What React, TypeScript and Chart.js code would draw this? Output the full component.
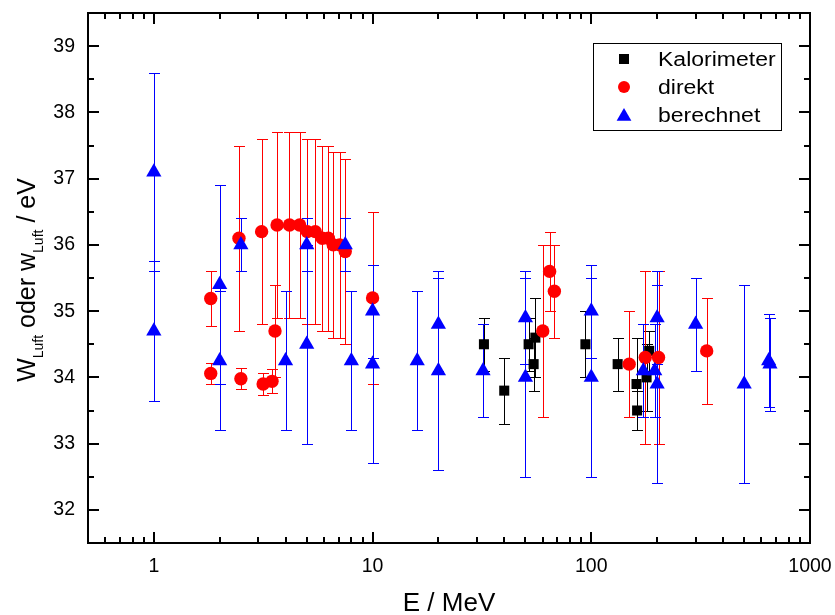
import React, { useEffect, useRef } from 'react';
import { Chart, registerables } from 'chart.js';

Chart.register(...registerables);

const FONT = '"Liberation Sans", Arial, Helvetica, sans-serif';

// ---- data ----
const seriesLabels = ['Kalorimeter', 'direkt', 'berechnet'];
const seriesColors = ['#000000', '#ff0000', '#0000ff'];

const kalE = [32.3, 40, 51.7, 54.5, 55.5, 94, 132, 161, 162, 179, 184];
const kalW = [34.5, 33.8, 34.5, 34.2, 34.6, 34.5, 34.2, 33.9, 33.5, 34.0, 34.4];
const kalErr = [0.4, 0.5, 0.4, 0.4, 0.6, 0.5, 0.4, 0.7, 0.3, 0.5, 0.3];

const dirE = [1.82, 1.82, 2.45, 2.5, 3.11, 3.16, 3.47, 3.58, 3.66, 4.17, 4.64, 5.03, 5.47, 5.89, 6.28, 6.61, 7.07, 7.5, 10, 60, 64.5, 67.8, 149, 176.5, 203, 337];
const dirW = [35.19, 34.06, 36.1, 33.98, 36.2, 33.9, 33.94, 34.7, 36.3, 36.3, 36.3, 36.2, 36.2, 36.1, 36.1, 36.0, 36.0, 35.9, 35.2, 34.7, 35.6, 35.3, 34.2, 34.3, 34.3, 34.4];
const dirErr = [0.42, 0.16, 1.4, 0.16, 1.4, 0.17, 0.18, 0.7, 1.4, 1.4, 1.4, 1.4, 1.4, 1.4, 1.4, 1.4, 1.4, 1.4, 1.3, 1.3, 0.6, 0.7, 0.8, 1.3, 1.3, 0.8];

const berE = [1, 1, 2, 2, 2.5, 4, 5, 5, 7.5, 8, 10, 10, 16, 20, 20, 32, 50, 50, 100, 100, 173, 195, 200, 200, 300, 500, 647, 656];
const berW = [37.1, 34.7, 35.4, 34.25, 36.0, 34.25, 36.0, 34.5, 36.0, 34.25, 35.0, 34.2, 34.25, 34.8, 34.1, 34.1, 34.9, 34.0, 35.0, 34.0, 34.1, 34.1, 34.9, 33.9, 34.8, 33.9, 34.25, 34.2];
const berErr = [1.5, 1.05, 1.5, 1.05, 0.4, 1.05, 0.4, 1.5, 0.4, 1.05, 0.7, 1.5, 1.05, 0.7, 1.5, 0.7, 0.7, 1.5, 0.7, 1.5, 0.7, 0.7, 0.7, 1.5, 0.7, 1.5, 0.7, 0.7];

const xTickValues = [1, 10, 100, 1000];
const yTickValues = [32, 33, 34, 35, 36, 37, 38, 39];
const xMin = 0.5;
const xMax = 1000;
const yMin = 31.5;
const yMax = 39.5;

const xTitle = 'E / MeV';
const yTitleParts: { t: string; sub: boolean }[] = [
  { t: 'W', sub: false },
  { t: 'Luft', sub: true },
  { t: ' oder w', sub: false },
  { t: 'Luft', sub: true },
  { t: ' / eV', sub: false },
];

const pointStyles = ['rect', 'circle', 'triangle'];
const pointRadii = [7.1, 6.7, 8.8];

function toPoints(xs: number[], ys: number[]) {
  return xs.map((v, i) => ({ x: v, y: ys[i] }));
}

function drawMarker(ctx: CanvasRenderingContext2D, style: string, x: number, y: number, r: number) {
  ctx.beginPath();
  if (style === 'rect') {
    const s = Math.SQRT1_2 * r;
    ctx.rect(x - s, y - s, 2 * s, 2 * s);
  } else if (style === 'circle') {
    ctx.arc(x, y, r, 0, Math.PI * 2);
  } else {
    let rad = 0;
    const tt = (2 * Math.PI) / 3;
    ctx.moveTo(x + Math.sin(rad) * r, y - Math.cos(rad) * r);
    rad += tt;
    ctx.lineTo(x + Math.sin(rad) * r, y - Math.cos(rad) * r);
    rad += tt;
    ctx.lineTo(x + Math.sin(rad) * r, y - Math.cos(rad) * r);
    ctx.closePath();
  }
  ctx.fill();
}

const errorBarPlugin = {
  id: 'errorBars',
  beforeDatasetsDraw(chart: any) {
    const { ctx, chartArea: a } = chart;
    const xs = chart.scales.x;
    const ys = chart.scales.y;
    ctx.save();
    ctx.beginPath();
    ctx.rect(a.left, a.top, a.right - a.left, a.bottom - a.top);
    ctx.clip();
    ctx.lineWidth = 1;
    chart.data.datasets.forEach((ds: any) => {
      ctx.strokeStyle = ds.errorColor;
      ds.data.forEach((p: any, i: number) => {
        const e = ds.errors[i];
        const px = Math.round(xs.getPixelForValue(p.x)) + 0.5;
        const y1 = Math.round(ys.getPixelForValue(p.y + e)) + 0.5;
        const y2 = Math.round(ys.getPixelForValue(p.y - e)) + 0.5;
        ctx.beginPath();
        ctx.moveTo(px, y1);
        ctx.lineTo(px, y2);
        ctx.moveTo(px - 5.5, y1);
        ctx.lineTo(px + 5.5, y1);
        ctx.moveTo(px - 5.5, y2);
        ctx.lineTo(px + 5.5, y2);
        ctx.stroke();
      });
    });
    ctx.restore();
  },
};

const framePlugin = {
  id: 'frameTicks',
  afterDraw(chart: any) {
    const { ctx, chartArea: a } = chart;
    const xs = chart.scales.x;
    const ys = chart.scales.y;
    ctx.save();
    ctx.strokeStyle = '#000';
    ctx.lineWidth = 2;
    ctx.strokeRect(a.left, a.top, a.right - a.left, a.bottom - a.top);

    const major = 11;
    const minor = 6;
    ctx.beginPath();
    for (let d = 0.1; d <= 1000; d *= 10) {
      for (let m = 1; m <= 9; m++) {
        const v = Math.round(m * d * 1000) / 1000;
        if (v <= xMin || v >= xMax) continue;
        const px = Math.round(xs.getPixelForValue(v));
        const len = m === 1 ? major : minor;
        ctx.moveTo(px, a.bottom);
        ctx.lineTo(px, a.bottom - len);
        ctx.moveTo(px, a.top);
        ctx.lineTo(px, a.top + len);
      }
    }
    for (let v = yMin + 0.5; v < yMax; v += 0.5) {
      const py = Math.round(ys.getPixelForValue(v));
      const len = Math.abs(v - Math.round(v)) < 1e-6 ? major : minor;
      ctx.moveTo(a.left, py);
      ctx.lineTo(a.left + len, py);
      ctx.moveTo(a.right, py);
      ctx.lineTo(a.right - len, py);
    }
    ctx.stroke();

    // legend
    const lx = 593, ly = 43, lw = 188, lh = 87;
    ctx.fillStyle = '#fff';
    ctx.fillRect(lx, ly, lw, lh);
    ctx.lineWidth = 1;
    ctx.strokeStyle = '#000';
    ctx.strokeRect(lx + 0.5, ly + 0.5, lw, lh);
    const rows = [59, 87, 115];
    const legR = [7.1, 6.0, 8.5];
    seriesLabels.forEach((lab, i) => {
      ctx.fillStyle = seriesColors[i];
      drawMarker(ctx, pointStyles[i], 624, rows[i] + (i === 2 ? 1.5 : 0), legR[i]);
      ctx.save();
      ctx.fillStyle = '#000';
      ctx.font = `20px ${FONT}`;
      ctx.textBaseline = 'middle';
      ctx.textAlign = 'left';
      ctx.translate(658, rows[i] + 1);
      ctx.scale(1.15, 1);
      ctx.fillText(lab, 0, 0);
      ctx.restore();
    });

    // x title
    ctx.fillStyle = '#000';
    ctx.font = `26px ${FONT}`;
    ctx.textAlign = 'center';
    ctx.textBaseline = 'alphabetic';
    ctx.fillText(xTitle, (a.left + a.right) / 2, 611);

    // y title with subscripts
    const mainFont = `25px ${FONT}`;
    const subFont = `14px ${FONT}`;
    let total = 0;
    yTitleParts.forEach((p) => {
      ctx.font = p.sub ? subFont : mainFont;
      total += ctx.measureText(p.t).width;
    });
    ctx.save();
    ctx.translate(35, (a.top + a.bottom) / 2 + 2);
    ctx.rotate(-Math.PI / 2);
    ctx.textAlign = 'left';
    let cx = -total / 2;
    yTitleParts.forEach((p) => {
      ctx.font = p.sub ? subFont : mainFont;
      ctx.fillText(p.t, cx, p.sub ? 8 : 0);
      cx += ctx.measureText(p.t).width;
    });
    ctx.restore();
    ctx.restore();
  },
};

export default function App() {
  const ref = useRef<HTMLCanvasElement | null>(null);

  useEffect(() => {
    if (!ref.current) return;
    const mk = (i: number, xsArr: number[], ysArr: number[], errs: number[], order: number) => ({
      label: seriesLabels[i],
      data: toPoints(xsArr, ysArr),
      errors: errs,
      errorColor: seriesColors[i],
      pointStyle: pointStyles[i],
      pointRadius: pointRadii[i],
      pointHoverRadius: pointRadii[i],
      pointBackgroundColor: seriesColors[i],
      pointBorderColor: seriesColors[i],
      pointBorderWidth: 0,
      backgroundColor: seriesColors[i],
      borderColor: seriesColors[i],
      showLine: false,
      order,
    });
    const chart = new Chart(ref.current, {
      type: 'scatter',
      data: {
        datasets: [
          mk(0, kalE, kalW, kalErr, 2),
          mk(1, dirE, dirW, dirErr, 1),
          mk(2, berE, berW, berErr, 0),
        ] as any,
      },
      options: {
        responsive: false,
        animation: false,
        devicePixelRatio: 1,
        layout: { padding: { top: 13, right: 25, left: 0, bottom: 0 } },
        plugins: {
          legend: { display: false },
          tooltip: { enabled: false },
          title: { display: false },
        },
        scales: {
          x: {
            type: 'logarithmic',
            min: xMin,
            max: xMax,
            grid: { display: false, drawTicks: false },
            border: { display: false },
            afterBuildTicks: (s: any) => {
              s.ticks = xTickValues.map((v) => ({ value: v }));
            },
            afterFit: (s: any) => {
              s.height = 72;
              s.paddingLeft = 0;
              s.paddingRight = 0;
              s.paddingTop = 0;
              s.paddingBottom = 0;
            },
            ticks: {
              autoSkip: false,
              maxRotation: 0,
              padding: 12,
              color: '#000',
              font: { family: FONT, size: 19.5 },
              callback: (v: any) => String(v),
            },
          },
          y: {
            type: 'linear',
            min: yMin,
            max: yMax,
            grid: { display: false, drawTicks: false },
            border: { display: false },
            afterBuildTicks: (s: any) => {
              s.ticks = yTickValues.map((v) => ({ value: v }));
            },
            afterFit: (s: any) => {
              s.width = 88;
              s.paddingLeft = 0;
              s.paddingRight = 0;
              s.paddingTop = 0;
              s.paddingBottom = 0;
            },
            ticks: {
              padding: 13,
              color: '#000',
              font: { family: FONT, size: 19.5 },
              callback: (v: any) => String(v),
            },
          },
        },
      } as any,
      plugins: [errorBarPlugin, framePlugin],
    });
    return () => chart.destroy();
  }, []);

  return (
    <div style={{ position: 'fixed', left: 0, top: 0, width: 835, height: 615, background: '#fff' }}>
      <canvas ref={ref} width={835} height={615} style={{ display: 'block' }} />
    </div>
  );
}
